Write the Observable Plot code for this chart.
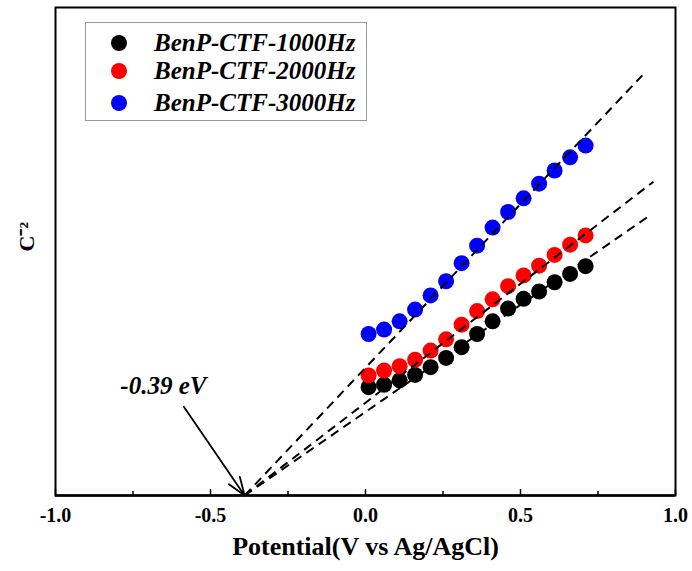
<!DOCTYPE html>
<html>
<head>
<meta charset="utf-8">
<script src="https://cdn.jsdelivr.net/npm/d3@7"></script>
<script src="https://cdn.jsdelivr.net/npm/@observablehq/plot@0.6"></script>
<style>
  body { margin: 0; background: white; }
  #wrap { position: relative; width: 692px; height: 571px; font-family: "Liberation Serif", "Times New Roman", serif; }
  #legend { position: absolute; left: 85px; top: 22px; width: 282px; height: 99px; border: 1px solid #999; background: white; box-sizing: border-box; }
  .item { position: absolute; left: 0; height: 30px; display: flex; align-items: center; }
  .sw { width: 16px; height: 16px; border-radius: 50%; margin-left: 25px; margin-right: 27px; }
  .lbl { font-weight: bold; font-style: italic; font-size: 25px; color: black; white-space: nowrap; }
</style>
</head>
<body>
<div id="wrap"></div>
<script>
// Data
const seriesNames = ["BenP-CTF-1000Hz", "BenP-CTF-2000Hz", "BenP-CTF-3000Hz"];
const seriesColors = ["#000000", "#ff0000", "#0000ff"];
const potential = [0.01, 0.06, 0.11, 0.16, 0.21, 0.26, 0.31, 0.36, 0.41, 0.46, 0.51, 0.56, 0.61, 0.66, 0.71];
const c1000 = [2.22, 2.27, 2.36, 2.47, 2.63, 2.82, 3.04, 3.31, 3.57, 3.83, 4.03, 4.18, 4.37, 4.54, 4.70];
const c2000 = [2.46, 2.56, 2.65, 2.78, 2.97, 3.20, 3.50, 3.78, 4.02, 4.29, 4.51, 4.71, 4.93, 5.14, 5.33];
const c3000 = [3.31, 3.40, 3.57, 3.81, 4.10, 4.39, 4.76, 5.12, 5.49, 5.81, 6.09, 6.39, 6.66, 6.93, 7.17];
const fitStartX = [-0.39, -0.39, -0.39];
const fitStartY = [0, 0, 0];
const fitEndX = [0.913, 0.929, 0.893];
const fitEndY = [5.72, 6.43, 8.61];
const xTicks = [-1.0, -0.5, 0.0, 0.5, 1.0];
const xMinorTicks = [-0.75, -0.25, 0.25, 0.75];
const annotText = ["-0.39 eV"];
const annotTextX = [-0.652];
const annotTextY = [2.25];
const arrowFromX = [-0.586], arrowFromY = [1.82];
const arrowToX = [-0.39], arrowToY = [0];

const seriesValues = [c1000, c2000, c3000];
const points = [];
seriesValues.forEach((vals, s) => vals.forEach((v, i) => points.push({x: potential[i], y: v, s})));
const fits = fitStartX.map((x1, i) => ({x1, y1: fitStartY[i], x2: fitEndX[i], y2: fitEndY[i]}));
const annot = annotText.map((t, i) => ({t, x: annotTextX[i], y: annotTextY[i]}));
const arrows = arrowFromX.map((x1, i) => ({x1, y1: arrowFromY[i], x2: arrowToX[i], y2: arrowToY[i]}));

const chart = Plot.plot({
  width: 692,
  height: 571,
  marginLeft: 55,
  marginRight: 17,
  marginTop: 7,
  marginBottom: 76,
  style: {fontFamily: "'Liberation Serif', 'Times New Roman', serif", background: "white", color: "black"},
  x: {domain: [-1, 1]},
  y: {domain: [0, 10], axis: null},
  marks: [
    Plot.dot(points, {x: "x", y: "y", r: 8, fill: d => seriesColors[d.s], stroke: "none"}),
    Plot.link(fits, {x1: "x1", y1: "y1", x2: "x2", y2: "y2", stroke: "black", strokeWidth: 2, strokeDasharray: "9,6"}),
    Plot.arrow(arrows, {x1: "x1", y1: "y1", x2: "x2", y2: "y2", stroke: "black", strokeWidth: 1.8, headLength: 16, headAngle: 40, bend: 0}),
    Plot.text(annot, {x: "x", y: "y", text: "t", fontSize: 25, fontWeight: "bold", fontStyle: "italic", fill: "black"}),
    Plot.axisX({ticks: xTicks, tickFormat: d => d.toFixed(1), tickSize: -6, tickPadding: 18, fontSize: 20, fontWeight: "bold", strokeWidth: 1.5, label: null}),
    Plot.axisX({ticks: xMinorTicks, tickFormat: () => "", tickSize: -4, strokeWidth: 1.5, label: null}),
    Plot.frame({stroke: "black", strokeWidth: 2}),
    Plot.ruleY([0], {stroke: "black", strokeWidth: 2.5}),
    Plot.text(["Potential(V vs Ag/AgCl)"], {frameAnchor: "bottom", dy: 59, fontSize: 26, fontWeight: "bold", fill: "black"}),
    Plot.text(["C⁻²"], {frameAnchor: "left", dx: -29, rotate: -90, fontSize: 22, fontWeight: "bold", fill: "black"})
  ]
});

const wrap = document.getElementById("wrap");
wrap.appendChild(chart);
const legend = document.createElement("div");
legend.id = "legend";
const rowTops = [5, 33, 65];
seriesNames.forEach((name, i) => {
  const item = document.createElement("div");
  item.className = "item";
  item.style.top = rowTops[i] + "px";
  item.innerHTML = `<span class="sw" style="background:${seriesColors[i]}"></span><span class="lbl">${name}</span>`;
  legend.appendChild(item);
});
wrap.appendChild(legend);
</script>
</body>
</html>
